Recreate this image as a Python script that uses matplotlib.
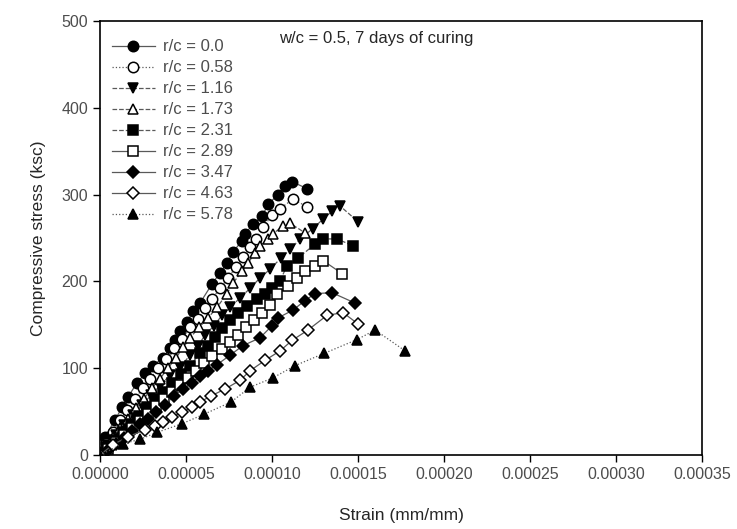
import matplotlib.pyplot as plt
import numpy as np

plt.rcParams['font.family'] = ['Liberation Sans', 'DejaVu Sans']

# strain values are given in units of 1e-5 mm/mm, stress in ksc
rc00_x = [0, 0.29, 0.87, 1.28, 1.63, 2.15, 2.62, 3.08, 3.66, 4.07, 4.36, 4.65, 5.06, 5.41,
          5.81, 6.51, 6.98, 7.38, 7.73, 8.26, 8.43, 8.90, 9.42, 9.77, 10.35, 10.76, 11.16, 12.03]
rc00_y = [3, 21, 40, 55, 67, 83, 94, 103, 112, 123, 133, 143, 153, 166,
          175, 197, 210, 221, 234, 247, 255, 266, 275, 289, 300, 310, 315, 307]

rc058_x = [0, 0.35, 0.76, 1.16, 1.57, 2.03, 2.50, 2.91, 3.37, 3.84, 4.30, 4.77, 5.23, 5.70,
           6.10, 6.51, 6.98, 7.44, 7.91, 8.31, 8.72, 9.07, 9.48, 10.0, 10.47, 11.22, 12.03]
rc058_y = [0, 14, 26, 40, 52, 65, 77, 88, 100, 111, 123, 134, 147, 157,
           169, 180, 192, 204, 217, 228, 240, 249, 263, 276, 284, 295, 286]

rc116_x = [0, 0.47, 0.93, 1.40, 1.92, 2.44, 2.97, 3.49, 4.07, 4.65, 5.23, 5.70, 6.10, 6.63,
           7.09, 7.56, 8.14, 8.72, 9.30, 9.88, 10.52, 11.05, 11.63, 12.38, 12.97, 13.49, 13.95, 14.99]
rc116_y = [0, 11, 23, 34, 46, 57, 69, 80, 92, 101, 115, 126, 138, 149,
           161, 170, 181, 192, 204, 214, 227, 237, 249, 261, 272, 281, 287, 269]

rc173_x = [0, 0.35, 0.76, 1.16, 1.63, 2.09, 2.56, 3.02, 3.49, 3.95, 4.42, 4.83, 5.23, 5.76,
           6.28, 6.80, 7.38, 7.73, 8.26, 8.60, 9.01, 9.30, 9.77, 10.06, 10.64, 11.05, 11.92]
rc173_y = [0, 10, 21, 31, 42, 54, 65, 77, 88, 100, 112, 124, 135, 147,
           158, 170, 186, 198, 212, 221, 233, 241, 249, 255, 264, 267, 256]

rc231_x = [0, 0.41, 0.87, 1.34, 1.80, 2.27, 2.73, 3.20, 3.66, 4.19, 4.71, 5.23, 5.81, 6.28, 6.69,
           7.09, 7.56, 8.02, 8.55, 9.13, 9.59, 10.0, 10.47, 10.87, 11.51, 12.50, 12.97, 13.78, 14.71]
rc231_y = [0, 9, 17, 26, 36, 45, 55, 64, 73, 83, 93, 103, 117, 126, 136,
           146, 155, 164, 172, 180, 186, 192, 201, 218, 227, 243, 249, 249, 241]

rc289_x = [0, 0.47, 0.93, 1.40, 1.86, 2.33, 2.79, 3.26, 3.72, 4.19, 4.65, 5.12, 5.58, 6.05, 6.51,
           7.09, 7.56, 8.02, 8.49, 8.95, 9.42, 9.88, 10.29, 10.93, 11.45, 11.92, 12.50, 12.97, 14.07]
rc289_y = [0, 7, 15, 23, 31, 39, 47, 56, 65, 73, 81, 89, 97, 106, 114,
           122, 130, 138, 147, 155, 164, 173, 185, 195, 204, 212, 218, 224, 209]

rc347_x = [0, 0.47, 0.93, 1.40, 1.86, 2.33, 2.79, 3.26, 3.78, 4.30, 4.83, 5.35, 5.81,
           6.28, 6.80, 7.56, 8.31, 9.30, 10.0, 10.35, 11.22, 11.92, 12.50, 13.49, 14.83]
rc347_y = [0, 6, 13, 19, 28, 36, 42, 50, 58, 68, 76, 83, 91,
           97, 104, 115, 126, 135, 149, 158, 167, 178, 186, 187, 175]

rc463_x = [0, 0.76, 1.63, 2.62, 3.20, 3.66, 4.19, 4.77, 5.35, 5.81, 6.45,
           7.27, 8.14, 8.72, 9.59, 10.47, 11.16, 12.09, 13.20, 14.13, 15.0]
rc463_y = [0, 12, 21, 29, 33, 38, 44, 49, 55, 61, 68,
           76, 86, 97, 109, 120, 132, 144, 161, 164, 151]

rc578_x = [0, 1.34, 2.33, 3.31, 4.77, 6.05, 7.62, 8.72, 10.06, 11.34, 13.02, 14.94, 15.99, 17.73]
rc578_y = [0, 13, 18, 26, 36, 47, 61, 78, 89, 103, 117, 133, 144, 120]

labels = ['r/c = 0.0', 'r/c = 0.58', 'r/c = 1.16', 'r/c = 1.73', 'r/c = 2.31',
          'r/c = 2.89', 'r/c = 3.47', 'r/c = 4.63', 'r/c = 5.78']

fig = plt.figure(figsize=(7.37, 5.29), dpi=100)
ax = fig.add_axes([0.1357, 0.14, 0.817, 0.82])

series = [
    (rc00_x, rc00_y, 'o', 'k', '-'),
    (rc058_x, rc058_y, 'o', 'w', ':'),
    (rc116_x, rc116_y, 'v', 'k', '--'),
    (rc173_x, rc173_y, '^', 'w', '--'),
    (rc231_x, rc231_y, 's', 'k', '--'),
    (rc289_x, rc289_y, 's', 'w', '-'),
    (rc347_x, rc347_y, 'D', 'k', '-'),
    (rc463_x, rc463_y, 'D', 'w', '-'),
    (rc578_x, rc578_y, '^', 'k', ':'),
]

for (x, y, m, fc, ls), lab in zip(series, labels):
    ms = 6.5 if m == 'D' else 7.5
    ax.plot(np.array(x) * 1e-5, y, marker=m, markerfacecolor=fc, markeredgecolor='k',
            markeredgewidth=1.1, color='0.35', linestyle=ls, linewidth=0.9,
            markersize=ms, label=lab)

ax.set_xlim(0, 0.00035)
ax.set_ylim(0, 500)
ax.set_xticks(np.arange(0, 0.000351, 0.00005))
ax.set_xticklabels(['%.5f' % v for v in np.arange(0, 0.000351, 0.00005)])
ax.set_yticks([0, 100, 200, 300, 400, 500])
ax.tick_params(direction='out', length=5, labelsize=11.5, labelcolor='0.3', width=1)
for sp in ax.spines.values():
    sp.set_linewidth(1.2)

ax.set_xlabel('Strain (mm/mm)', fontsize=12.5, color='0.15', labelpad=19)
ax.set_ylabel('Compressive stress (ksc)', fontsize=12.5, color='0.15', labelpad=11)

ax.text(0.297, 0.96, 'w/c = 0.5, 7 days of curing', transform=ax.transAxes,
        fontsize=12, color='0.15', va='center')

leg = ax.legend(loc='upper left', frameon=False, fontsize=12, handlelength=2.6,
                handletextpad=0.5, labelspacing=0.36, borderaxespad=0.3,
                bbox_to_anchor=(0.0, 0.985))
for t in leg.get_texts():
    t.set_color('0.3')

fig.savefig('out.png', dpi=100)
